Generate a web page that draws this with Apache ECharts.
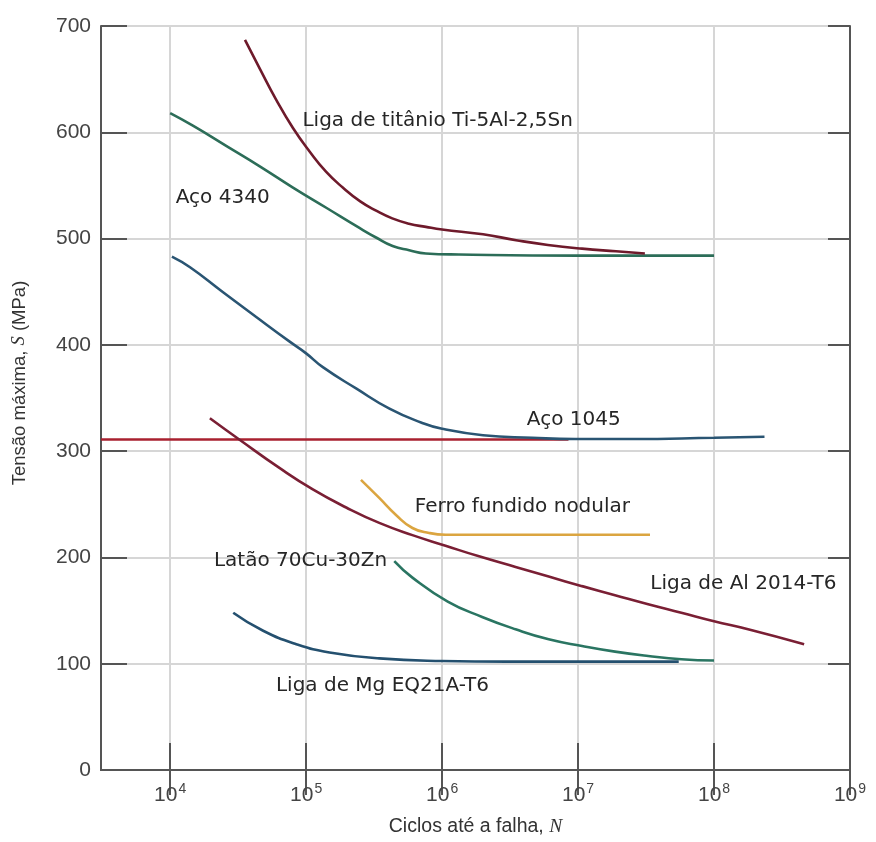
<!DOCTYPE html>
<html>
<head>
<meta charset="utf-8">
<script src="https://cdn.jsdelivr.net/npm/echarts@6/dist/echarts.min.js"></script>
<style>
html,body{margin:0;padding:0;background:#fff;}
#chart{width:876px;height:842px;}
</style>
</head>
<body>
<div id="chart"></div>
<script>
// ---- Data (N = cycles to failure, S = max stress MPa) ----
const yTicks = [0, 100, 200, 300, 400, 500, 600, 700];
const xTickValues = [1e4, 1e5, 1e6, 1e7, 1e8, 1e9];

const titanio = [[35500,687],[46000,659],[60000,631],[80000,604],[106000,582],[140000,563],[186000,548],[250000,535],[330000,526],[430000,519],[570000,514],[760000,511],[1.0e6,508.5],[2.0e6,504],[3.5e6,498.5],[6.0e6,494],[1.07e7,490.5],[1.9e7,488],[3.1e7,486]];
const aco4340 = [[10000,618],[14800,606],[26000,587],[45600,568],[80000,548],[140600,529],[246600,510],[326600,501],[432500,493],[573000,489],[759000,486],[1.33e6,485],[1.0e7,484],[1.0e8,484]];
const aco1045 = [[10300,483],[14000,473],[24500,449.5],[43200,426],[75700,403],[100000,392],[132700,379],[233000,359],[410000,340],[700000,327],[1.0e6,321],[2.0e6,315],[4.6e6,312.6],[9.5e6,311.4],[2.5e7,311.4],[1.0e8,312.6],[2.35e8,313.5]];
const linhaVermelha = [[3100,311],[8.5e6,311]];
const ligaAl = [[19600,331],[32600,310.5],[64000,284],[112000,264],[197000,247],[345000,232.5],[605000,221],[1.06e6,211],[1.87e6,201],[3.47e6,191],[6.08e6,182],[1.07e7,173],[1.87e7,164.5],[3.28e7,156],[5.75e7,148],[1.0e8,140],[1.78e8,132.5],[4.6e8,118.4]];
const ferro = [[253000,273],[345000,256],[458000,240],[605000,227.7],[804000,223],[1.06e6,221.4],[5.0e6,221.4],[3.38e7,221.4]];
const latao = [[445000,196.5],[605000,181],[1.1e6,158.5],[1.97e6,144],[3.47e6,132.4],[6.08e6,123],[1.07e7,116.7],[1.87e7,111.4],[3.28e7,107.3],[5.75e7,104.2],[1.0e8,103]];
const ligaMg = [[29100,148],[48300,131],[84700,118.4],[148600,110.6],[345000,105],[1.0e6,102.6],[3.0e6,102],[1.0e7,102],[5.5e7,102]];

const chart = echarts.init(document.getElementById('chart'), null, {renderer: 'canvas'});

const labelFont = {fontFamily: 'DejaVu Sans', fontSize: 20, color: '#262626'};

function lineSeries(name, data, color, label, anchor, z) {
  const s = {
    name: name,
    type: 'line',
    data: data,
    smooth: true,
    showSymbol: false,
    symbol: 'none',
    z: z || 2,
    lineStyle: {color: color, width: 2.6},
    emphasis: {disabled: true}
  };
  if (label) {
    s.markPoint = {
      symbol: 'circle',
      symbolSize: 0,
      silent: true,
      animation: false,
      label: Object.assign({show: true, position: 'right', distance: 0, formatter: label}, labelFont),
      data: [{coord: anchor}]
    };
  }
  return s;
}

const axisColor = '#555';
const option = {
  animation: false,
  backgroundColor: '#fff',
  grid: {left: 101, right: 26, top: 26, bottom: 69, containLabel: false},
  xAxis: [{
    type: 'log',
    min: 3100,
    max: 1e9,
    position: 'bottom',
    name: 'Ciclos até a falha, {i|N}',
    nameLocation: 'middle',
    nameGap: 47,
    nameTextStyle: {
      fontFamily: 'Liberation Sans', fontSize: 19.5, color: '#333',
      rich: {i: {fontFamily: 'Liberation Serif', fontStyle: 'italic', fontSize: 19.5, color: '#333'}}
    },
    axisLine: {lineStyle: {color: axisColor, width: 2}},
    axisTick: {inside: true, length: 27, customValues: xTickValues, lineStyle: {color: axisColor, width: 2}},
    splitLine: {show: true, lineStyle: {color: '#d6d6d6', width: 2}},
    minorTick: {show: false},
    axisLabel: {
      margin: 12,
      customValues: xTickValues,
      formatter: function (v) {
        const r = Math.round(Math.log10(v));
        return '{b|10}{s|' + r + '}';
      },
      rich: {
        b: {fontFamily: 'Liberation Sans', fontSize: 21, color: '#444', lineHeight: 24, verticalAlign: 'bottom'},
        s: {fontFamily: 'Liberation Sans', fontSize: 14, color: '#444', lineHeight: 24, verticalAlign: 'top', padding: [0, 0, 0, 1]}
      }
    }
  }, {
    type: 'log',
    min: 3100,
    max: 1e9,
    position: 'top',
    axisLine: {lineStyle: {color: axisColor, width: 2}},
    axisTick: {inside: true, length: 25, customValues: xTickValues, lineStyle: {color: axisColor, width: 2}},
    splitLine: {show: false},
    axisLabel: {show: false}
  }],
  yAxis: [{
    type: 'value',
    min: yTicks[0],
    max: yTicks[yTicks.length - 1],
    interval: 100,
    name: 'Tensão máxima, {i|S} (MPa)',
    nameLocation: 'middle',
    nameGap: 72,
    nameRotate: 90,
    nameTextStyle: {
      fontFamily: 'Liberation Sans', fontSize: 18.5, color: '#333',
      padding: [0, 0, 0, 30],
      rich: {i: {fontFamily: 'Liberation Serif', fontStyle: 'italic', fontSize: 18.5, color: '#333'}}
    },
    axisLine: {show: true, lineStyle: {color: axisColor, width: 2}},
    axisTick: {show: true, inside: true, length: 26, lineStyle: {color: axisColor, width: 2}},
    splitLine: {show: true, lineStyle: {color: '#d6d6d6', width: 2}},
    axisLabel: {margin: 10, fontFamily: 'Liberation Sans', fontSize: 21, color: '#444'}
  }, {
    type: 'value',
    min: yTicks[0],
    max: yTicks[yTicks.length - 1],
    interval: 100,
    position: 'right',
    axisLine: {show: true, lineStyle: {color: axisColor, width: 2}},
    axisTick: {show: true, inside: true, length: 22, lineStyle: {color: axisColor, width: 2}},
    splitLine: {show: false},
    axisLabel: {show: false}
  }],
  series: [
    lineSeries('Linha 310', linhaVermelha, '#a8202f', null, null, 2),
    lineSeries('Aço 1045', aco1045, '#2a5573', 'Aço 1045', [4.2e6, 329.5], 3),
    lineSeries('Aço 4340', aco4340, '#2c6d58', 'Aço 4340', [1.1e4, 538], 2),
    lineSeries('Liga de titânio Ti-5Al-2,5Sn', titanio, '#6e1a2b', 'Liga de titânio Ti-5Al-2,5Sn', [9.4e4, 611], 3),
    lineSeries('Ferro fundido nodular', ferro, '#dba540', 'Ferro fundido nodular', [6.3e5, 248], 2),
    lineSeries('Liga de Al 2014-T6', ligaAl, '#7a1f34', 'Liga de Al 2014-T6', [3.4e7, 175], 3),
    lineSeries('Latão 70Cu-30Zn', latao, '#2a7562', 'Latão 70Cu-30Zn', [2.1e4, 196.6], 2),
    lineSeries('Liga de Mg EQ21A-T6', ligaMg, '#24506f', 'Liga de Mg EQ21A-T6', [6.0e4, 79.5], 3)
  ]
};
chart.setOption(option);
</script>
</body>
</html>
